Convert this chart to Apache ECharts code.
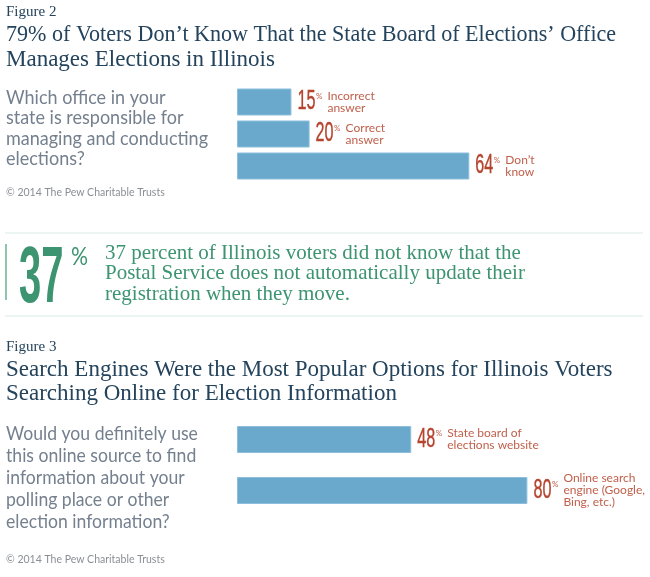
<!DOCTYPE html>
<html>
<head>
<meta charset="utf-8">
<script src="https://cdn.jsdelivr.net/npm/echarts@6/dist/echarts.min.js"></script>
<style>
html,body{margin:0;padding:0;background:#fff}
#chart{width:650px;height:577px}
</style>
</head>
<body>
<div id="chart"></div>
<script>
var fig2Cats = ['Incorrect answer', 'Correct answer', "Don't know"];
var fig2Vals = [15, 20, 64];
var fig2Desc = ['Incorrect\nanswer', 'Correct\nanswer', "Don\u2019t\nknow"];
var fig3Cats = ['State board of elections website', 'Online search engine'];
var fig3Vals = [48, 80];
var fig3Desc = ['State board of\nelections website', 'Online search\nengine (Google,\nBing, etc.)'];

var fig2Title = ["79% of Voters Don\u2019t Know That the State Board of Elections\u2019 Office", 'Manages Elections in Illinois'];
var fig3Title = 'Search Engines Were the Most Popular Options for Illinois Voters\nSearching Online for Election Information';
var fig2Question = 'Which office in your\nstate is responsible for\nmanaging and conducting\nelections?';
var fig3Question = 'Would you definitely use\nthis online source to find\ninformation about your\npolling place or other\nelection information?';
var calloutText = '37 percent of Illinois voters did not know that the\nPostal Service does not automatically update their\nregistration when they move.';
var credit = '\u00a9 2014 The Pew Charitable Trusts';

var NAVY = '#24435c', SLATE = '#75808f', RED = '#b5442f', GREEN = '#3d9470', BAR = '#6aa8cc';
var SERIF = '"Liberation Serif", serif', SANS = 'Lato, "Noto Sans", sans-serif', NUMFONT = '"Liberation Sans", sans-serif';

function txt(x, y, text, font, fill, lineHeight, scaleX) {
    return { type: 'text', x: x, y: y, silent: true, scaleX: scaleX || 1,
        style: { text: text, font: font, fill: fill, lineHeight: lineHeight } };
}
function rule(x1, y1, x2, y2, color, w) {
    return { type: 'line', silent: true, shape: { x1: x1, y1: y1, x2: x2, y2: y2 }, style: { stroke: color, lineWidth: w } };
}
// squeezed number + small % after the bar end, no narrow font is available
function renderNumber(params, api) {
    var c = api.coord([api.value(0), api.value(1)]);
    var s = String(api.value(0));
    return {
        type: 'group', x: c[0] + 6, y: c[1], silent: true,
        children: [
            { type: 'text', x: 0, y: 0, scaleX: 0.6,
              style: { text: s, font: '27px ' + NUMFONT, fill: RED, stroke: RED, lineWidth: 0.4, verticalAlign: 'middle' } },
            { type: 'text', x: s.length * 9 + 0.5, y: -10,
              style: { text: '%', font: '8px ' + SANS, fill: '#c0604c' } }
        ]
    };
}
function barSeries(idx, vals, desc, barWidth) {
    return [{
        type: 'bar', xAxisIndex: idx, yAxisIndex: idx, data: vals, barWidth: barWidth,
        itemStyle: { color: BAR, borderColor: '#8dbfdc', borderWidth: 1 },
        label: {
            show: true, position: 'right', distance: 36,
            formatter: function (p) { return desc[p.dataIndex]; },
            fontFamily: 'Lato, "Noto Sans", sans-serif', fontSize: 12, color: '#c0604c', lineHeight: 12
        }
    }, {
        type: 'custom', xAxisIndex: idx, yAxisIndex: idx, renderItem: renderNumber,
        encode: { x: 0, y: 1 }, z: 5,
        data: vals.map(function (v, i) { return [v, i]; })
    }];
}

var chart = echarts.init(document.getElementById('chart'));
chart.setOption({
    animation: false,
    grid: [
        { left: 237, width: 363, top: 86, height: 96 },
        { left: 237, width: 363, top: 414, height: 102 }
    ],
    xAxis: [
        { gridIndex: 0, type: 'value', min: 0, max: 100, show: false },
        { gridIndex: 1, type: 'value', min: 0, max: 100, show: false }
    ],
    yAxis: [
        { gridIndex: 0, type: 'category', inverse: true, data: fig2Cats, show: false },
        { gridIndex: 1, type: 'category', inverse: true, data: fig3Cats, show: false }
    ],
    series: barSeries(0, fig2Vals, fig2Desc, 27).concat(barSeries(1, fig3Vals, fig3Desc, 27)),
    graphic: [
        txt(6, 5, 'Figure 2', '15px ' + SERIF, NAVY),
        txt(6, 22, fig2Title[0], '23px ' + SERIF, NAVY, 25, 0.96),
        txt(6, 47, fig2Title[1], '23px ' + SERIF, NAVY, 25),
        txt(6, 87, fig2Question, '20px ' + SANS, SLATE, 20.5, 0.9),
        txt(6, 187, credit, '10.5px ' + SANS, '#8a8f96'),
        rule(5, 233, 643, 233, '#d8ebe5', 1),
        rule(6, 244, 6, 300, '#8fc4ad', 2),
        txt(19, 240, '37', 'bold 80px ' + NUMFONT, GREEN, null, 0.5),
        txt(71, 244, '%', '25px ' + SANS, GREEN, null, 0.85),
        txt(105, 243, calloutText, '21px ' + SERIF, GREEN, 20.5),
        rule(5, 316, 643, 316, '#d8ebe5', 1),
        txt(6, 340, 'Figure 3', '15px ' + SERIF, NAVY),
        txt(6, 358, fig3Title, '23px ' + SERIF, NAVY, 24),
        txt(6, 423, fig3Question, '20px ' + SANS, SLATE, 21.8, 0.88),
        txt(6, 554, credit, '10.5px ' + SANS, '#8a8f96')
    ]
});
window.onresize = function () { chart.resize(); };
</script>
</body>
</html>
